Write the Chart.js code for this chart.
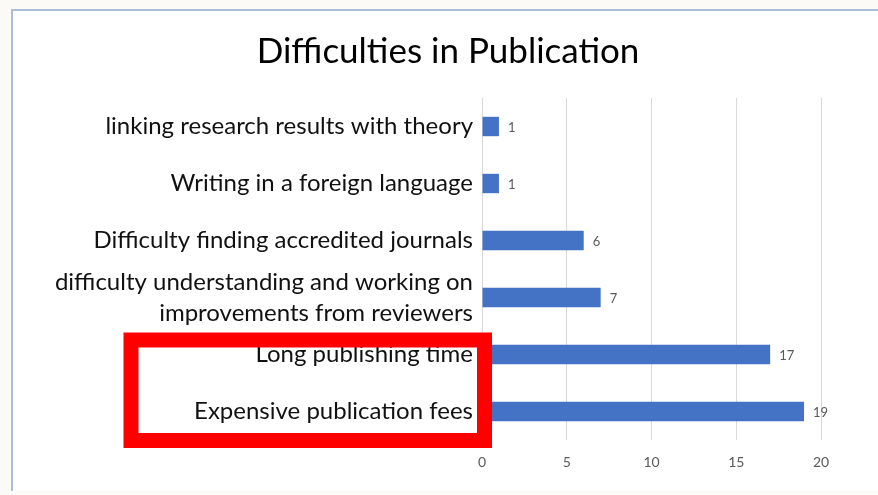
<!DOCTYPE html>
<html>
<head>
<meta charset="utf-8">
<script src="https://cdn.jsdelivr.net/npm/chart.js@4"></script>
<style>
  html, body { margin: 0; padding: 0; background: #fbfaf7; width: 878px; height: 495px; overflow: hidden; }
  #frame { position: absolute; left: 11px; top: 9px; right: -10px; bottom: 4px; background: #fff;
           border-left: 2px solid #a9bcd8; border-top: 2px solid #a9bcd8; }
  #myChart { position: absolute; left: 0; top: 0; }
</style>
</head>
<body>
<div id="frame"></div>
<canvas id="myChart" width="878" height="495"></canvas>
<script>
// chart data
let categories = [
    'linking research results with theory',
    'Writing in a foreign language',
    'Difficulty finding accredited journals',
    ['difficulty understanding and working on', 'improvements from reviewers'],
    'Long publishing time',
    'Expensive publication fees'
];
let counts = [1, 1, 6, 7, 17, 19];
let tickValues = [0, 5, 10, 15, 20];

let titleText = 'Difficulties in Publication';

// title, centred a bit right of the canvas middle like the original slide
let chartTitle = {
    id: 'chartTitle',
    afterDraw(chart) {
        let ctx = chart.ctx;
        ctx.save();
        ctx.font = '35px Lato';
        ctx.fillStyle = '#000';
        ctx.textAlign = 'center';
        ctx.textBaseline = 'middle';
        ctx.fillText(titleText, 448, 52);
        ctx.restore();
    }
};

// value labels next to the bars
let valueLabels = {
    id: 'valueLabels',
    afterDatasetsDraw(chart) {
        let ctx = chart.ctx;
        let meta = chart.getDatasetMeta(0);
        ctx.save();
        ctx.font = '13px Lato';
        ctx.fillStyle = '#595959';
        ctx.textAlign = 'left';
        ctx.textBaseline = 'middle';
        meta.data.forEach((bar, i) => {
            ctx.fillText(String(counts[i]), bar.x + 9, bar.y + 1);
        });
        ctx.restore();
    }
};

// red highlight box around the last two categories
let redBox = {
    id: 'redBox',
    afterDraw(chart) {
        let ctx = chart.ctx;
        let y = chart.scales.y;
        let area = chart.chartArea;
        let top = y.getPixelForValue(4) - 14.5;
        let bottom = area.bottom + 0.5;
        let left = area.left - 351;
        let right = area.left + 2.5;
        ctx.save();
        ctx.strokeStyle = '#ff0000';
        ctx.lineWidth = 15;
        ctx.strokeRect(left, top, right - left, bottom - top);
        ctx.restore();
    }
};

var ctx = document.getElementById('myChart').getContext('2d');
var chart = new Chart(ctx, {
    type: 'bar',
    data: {
        labels: categories,
        datasets: [{
            data: counts,
            backgroundColor: '#4472c4',
            borderWidth: 0,
            barPercentage: 0.34,
            categoryPercentage: 1
        }]
    },
    options: {
        indexAxis: 'y',
        responsive: false,
        animation: false,
        layout: { padding: { left: 0, right: 57, top: 98, bottom: 15 } },
        plugins: {
            legend: { display: false },
            tooltip: { enabled: false },
            title: { display: false }
        },
        scales: {
            x: {
                min: 0,
                max: 20,
                afterBuildTicks: (axis) => { axis.ticks = tickValues.map(v => ({ value: v })); },
                afterFit: (axis) => { axis.height = 40; },
                ticks: {
                    color: '#595959',
                    font: { family: 'Lato', size: 14 },
                    padding: 14
                },
                grid: { color: '#d9d9d9', lineWidth: 1, drawTicks: false },
                border: { display: false }
            },
            y: {
                afterFit: (axis) => { axis.width = 482; },
                ticks: {
                    autoSkip: false,
                    color: '#111',
                    font: { family: 'Lato', size: 24, lineHeight: 1.3 },
                    padding: 9
                },
                grid: { display: false, drawTicks: false },
                border: { display: false }
            }
        }
    },
    plugins: [chartTitle, valueLabels, redBox]
});
</script>
</body>
</html>
